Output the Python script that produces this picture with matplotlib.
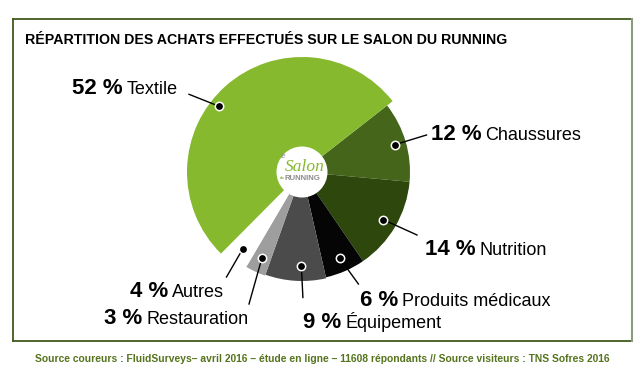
import numpy as np
import matplotlib
matplotlib.use('Agg')
import matplotlib.pyplot as plt
from matplotlib import font_manager as fm
from matplotlib.patches import Circle
from matplotlib.lines import Line2D

# ---------------- data ----------------
categories = ['Chaussures', 'Nutrition', 'Produits médicaux', 'Équipement',
              'Restauration', 'Autres', 'Textile']
values = [12, 14, 6, 9, 3, 4, 52]
pct_labels = ['12 %', '14 %', '6 %', '9 %', '3 %', '4 %', '52 %']
title = 'RÉPARTITION DES ACHATS EFFECTUÉS SUR LE SALON DU RUNNING'
footer = ('Source coureurs : FluidSurveys– avril 2016 – étude en ligne – '
          '11608 répondants // Source visiteurs : TNS Sofres 2016')

# ---------------- style / layout ----------------
colors = ['#45661a', '#2e470c', '#050505', '#4b4b4b', '#9e9e9e', '#ffffff', '#86b92e']
radii = [108, 108, 108, 109, 110, 108, 115]          # px
dot_frac = [0.90, 0.87, 0.87, 0.86, 0.86, 0.90, 0.92]
dot_shift = [0, 0, 0, 3, 0, 0, 10]                    # visual degrees
center = (302, 172)
start_visual = 38.0
# text left x, baseline y, leader end (x, y)
label_pos = [(430.6, 140), (425, 255), (360, 306), (303, 328),
             (104, 324), (129.8, 297), (71.7, 93.5)]
leader_end = [(426.5, 135), (417, 235), (358.4, 284), (302.9, 297.5),
              (249, 304), (226.5, 277), (189, 94.3)]

names = {f.name for f in fm.fontManager.ttflist}
FONT = 'Liberation Sans' if 'Liberation Sans' in names else 'DejaVu Sans'
SERIF = 'Liberation Serif' if 'Liberation Serif' in names else 'DejaVu Serif'

W, H = 640, 372
fig = plt.figure(figsize=(W / 100, H / 100), dpi=100)
ax = fig.add_axes([0, 0, 1, 1])

wedges, _ = ax.pie(values, colors=colors, startangle=-start_visual,
                   counterclock=True, center=center, radius=1,
                   wedgeprops=dict(linewidth=0))
for w, r in zip(wedges, radii):
    w.set_radius(r)

ax.set_xlim(0, W)
ax.set_ylim(H, 0)
ax.set_aspect('equal')
ax.axis('off')

# center logo circle
ax.add_patch(Circle(center, 25.5, facecolor='white', edgecolor='none', zorder=3))
ax.text(center[0] - 21, center[1] - 15, 'le', fontsize=5, color='#8a8a8a',
        family=FONT, style='italic', ha='left', va='center', zorder=4)
ax.text(center[0] + 2.5, center[1] - 5, 'Salon', fontsize=12.5, color='#86b92e',
        family=SERIF, style='italic', ha='center', va='center', zorder=4)
ax.text(center[0] - 22, center[1] + 6, 'du', fontsize=2.8, color='#86b92e',
        family=FONT, fontweight='bold', ha='left', va='center', zorder=4)
ax.text(center[0] - 17.5, center[1] + 6, 'RUNNING', fontsize=5.6, color='#8c8c8c',
        family=FONT, fontweight='bold', ha='left', va='center', zorder=4)

# dots and leaders
for i, w in enumerate(wedges):
    mid = 0.5 * (w.theta1 + w.theta2) - dot_shift[i]
    rr = radii[i] * dot_frac[i]
    dx = center[0] + rr * np.cos(np.radians(mid))
    dy = center[1] + rr * np.sin(np.radians(mid))
    ex, ey = leader_end[i]
    ax.add_line(Line2D([dx, ex], [dy, ey], color='black', lw=1.0, zorder=5))
    ax.plot(dx, dy, 'o', ms=6, mfc='black', mec='white', mew=1.1, zorder=6)

# labels
fig.canvas.draw()
renderer = fig.canvas.get_renderer()
for i in range(len(categories)):
    x, y = label_pos[i]
    t = ax.text(x, y, pct_labels[i], fontsize=16, fontweight='bold', family=FONT,
                color='black', ha='left', va='baseline', zorder=7)
    bb = t.get_window_extent(renderer)
    ax.text(x + bb.width + 4, y, categories[i], fontsize=13, family=FONT,
            color='black', ha='left', va='baseline', zorder=7)

# title and footer
ax.text(25, 44, title, fontsize=10.2, fontweight='bold', family=FONT,
        color='black', ha='left', va='baseline')
ax.text(322, 359, footer, fontsize=7.4, fontweight='bold', family=FONT,
        color='#55731c', ha='center', va='center')

# frame
ax.add_line(Line2D([12.5, 631.5], [18.5, 18.5], color='#3f5c1c', lw=1.3))
ax.add_line(Line2D([12.5, 12.5], [18.5, 341], color='#3f5c1c', lw=1.3))
ax.add_line(Line2D([12.5, 631.5], [341, 341], color='#3f5c1c', lw=1.3))
ax.add_line(Line2D([631.5, 631.5], [18.5, 341], color='#8d9a80', lw=1.5))

fig.savefig('out.png', dpi=100)
